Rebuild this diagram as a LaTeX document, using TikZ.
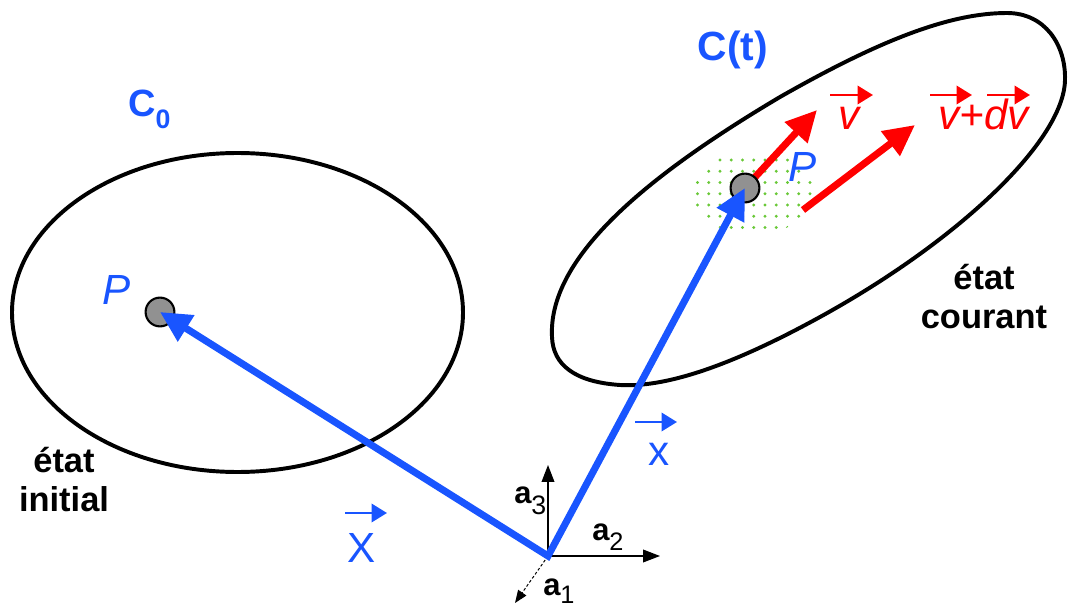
\documentclass[tikz,border=0pt]{standalone}
\usepackage{fontspec}
\setmainfont{Liberation Sans}
\usetikzlibrary{arrows.meta,patterns.meta}

\definecolor{ptblue}{RGB}{25,85,255}
\definecolor{ptred}{RGB}{255,0,0}
\definecolor{ptgreen}{RGB}{105,200,55}
\definecolor{ptgray}{RGB}{145,145,145}

\begin{document}
\begin{tikzpicture}[x=0.025cm, y=-0.025cm,
    every node/.style={inner sep=0pt},
    contour/.style={draw, line width=2.8pt},
    bigvec/.style={line width=5pt, -{Triangle[length=22pt,width=21pt]}},
    smallvec/.style={line width=2pt, -{Triangle[length=11pt,width=13pt]}},
    axis/.style={line width=1pt, -{Triangle[length=12pt,width=9pt]}},
    pointdot/.style={circle, draw, line width=1.5pt, fill=ptgray, minimum size=0.72cm},
    lbl/.style={font=\fontsize{30}{30}\selectfont, anchor=base},
    state/.style={font=\bfseries\fontsize{24.5}{27.7}\selectfont, align=center},
    axlbl/.style={font=\bfseries\fontsize{22}{22}\selectfont, anchor=base west}
]

\useasboundingbox (0,0) rectangle (1068,610);

% Configurations
\draw[contour] (237.5,312.5) ellipse [x radius=225.5, y radius=159.5];
\draw[contour] (552,337) .. controls (548,260) and (640,180) .. (780,97)
  .. controls (880,40) and (950,13) .. (1007,13)
  .. controls (1045,13) and (1066,45) .. (1065,80)
  .. controls (1064,140) and (960,240) .. (820,317)
  .. controls (740,361) and (670,388) .. (620,385)
  .. controls (575,382) and (553,365) .. (552,337) -- cycle;

% Neighbourhood of P
\fill[pattern={Dots[distance=8pt,radius=1.2pt]}, pattern color=ptgreen]
  (753,193) ellipse [x radius=63, y radius=41];

% Frame
\coordinate (O) at (548,556);
\coordinate (a1tip) at (515,603);
\coordinate (a2tip) at (660,556);
\coordinate (a3tip) at (548,465);
\draw[axis] (O) -- (a2tip);
\draw[axis] (O) -- (a3tip);
\draw[line width=0.7pt, dash pattern=on 2pt off 1.5pt, -{Triangle[length=9pt,width=7pt]}] (O) -- (a1tip);

% Velocities
\coordinate (p1) at (745,188);
\coordinate (v1tip) at (817,110);
\coordinate (v2tail) at (803,210);
\coordinate (v2tip) at (915,125);
\draw[bigvec, ptred] (p1) -- (v1tip);
\draw[bigvec, ptred] (v2tail) -- (v2tip);

% Points
\node[pointdot] (P0) at (160,312) {};
\node[pointdot] (P1) at (p1) {};

% Position vectors
\draw[ptblue, line width=5pt, {Triangle[length=22pt,width=21pt]}-{Triangle[length=22pt,width=21pt]}]
  (P0.center) -- (O) -- (P1.center);

% Labels
\node[font=\bfseries\fontsize{27}{27}\selectfont, text=ptblue, anchor=base west] (C0) at (128,117)
  {C\raisebox{-8.5pt}{\fontsize{19}{19}\selectfont 0}};
\node[font=\bfseries\fontsize{29}{29}\selectfont, text=ptblue, anchor=base] (Ct) at (733,61) {C(t)};
\node[lbl, text=ptblue] (P0lbl) at (117,305) {\itshape P};
\node[lbl, text=ptblue] (P1lbl) at (803,182) {\itshape P};

\node[lbl, text=ptblue] (X) at (362,562) {X};
\draw[smallvec, ptblue] ([shift={(-17,-49)}]X.base) -- ([shift={(25,-49)}]X.base);
\node[lbl, text=ptblue] (x) at (659,465) {x};
\draw[smallvec, ptblue] ([shift={(-24,-43)}]x.base) -- ([shift={(18,-43)}]x.base);

\node[lbl, text=ptred] (v) at (849,130) {\itshape v};
\draw[smallvec, ptred] ([shift={(-19,-35)}]v.base) -- ([shift={(24,-35)}]v.base);
\node[lbl, text=ptred, anchor=base west] (vdv) at (938,130) {\itshape v+dv};
\draw[smallvec, ptred] ([shift={(-8,-35)}]vdv.base west) -- ([shift={(34,-35)}]vdv.base west);
\draw[smallvec, ptred] ([shift={(49,-35)}]vdv.base west) -- ([shift={(92,-35)}]vdv.base west);

\node[axlbl] (a1) at (543,595) {a\raisebox{-6pt}{\mdseries\fontsize{18}{18}\selectfont 1}};
\node[axlbl] (a2) at (592,540) {a\raisebox{-7.5pt}{\mdseries\fontsize{18}{18}\selectfont 2}};
\node[axlbl] (a3) at (514,503) {a\raisebox{-8.5pt}{\mdseries\fontsize{19}{19}\selectfont 3}};

\node[state] (init) at (64,480) {état\\initial};
\node[state] (curr) at (984,297) {état\\courant};

\end{tikzpicture}
\end{document}
